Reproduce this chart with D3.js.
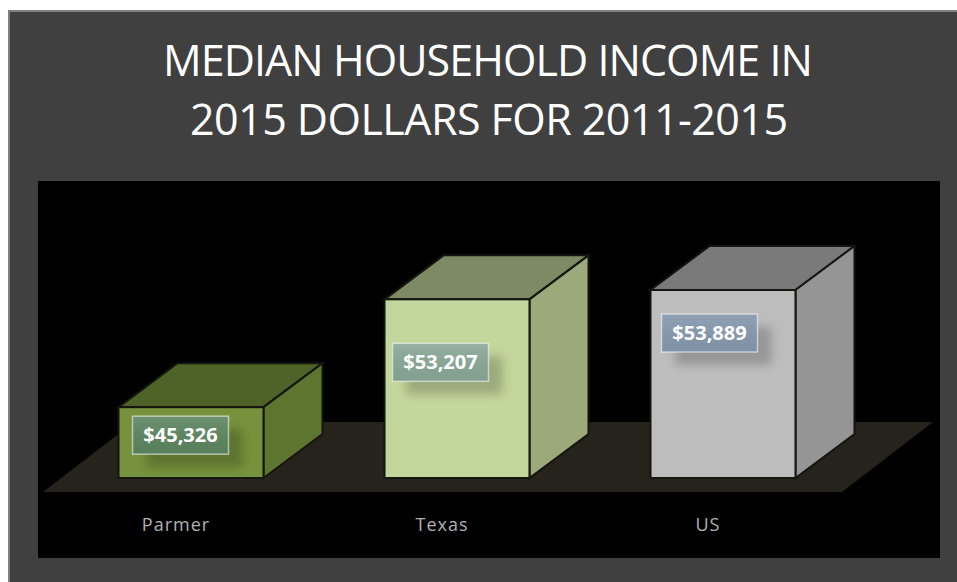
<!DOCTYPE html>
<html>
<head>
<meta charset="utf-8">
<script src="https://cdnjs.cloudflare.com/ajax/libs/d3/7.8.5/d3.min.js"></script>
<style>
  html, body { margin: 0; padding: 0; background: #fff; overflow: hidden; }
  svg { display: block; }
</style>
</head>
<body>
<div id="chart"></div>
<script>
// Data
const titleLines = ["MEDIAN HOUSEHOLD INCOME IN", "2015 DOLLARS FOR 2011-2015"];
const categories = ["Parmer", "Texas", "US"];
const incomes = [45326, 53207, 53889];

// Colours per bar
const frontColors = ["#76923c", "#c3d69b", "#bdbdbd"];
const sideColors = ["#5e7530", "#9ba97b", "#959595"];
const topColors = ["#4f6228", "#7d8a63", "#7a7a7a"];
const labelColors = ["#5c8660", "#8aa898", "#8699af"];

const width = 957, height = 582;
const depthX = 59, depthY = 44; // fake 3D offset of the box back face
const floorY = 478;

const svg = d3.select("#chart").append("svg")
    .attr("width", width)
    .attr("height", height);

// Panel and plot area
svg.append("rect").attr("x", 9).attr("y", 11).attr("width", width).attr("height", height)
    .attr("fill", "#404040").attr("stroke", "#7f7f7f").attr("stroke-width", 2);
svg.append("rect").attr("x", 38).attr("y", 181).attr("width", 902).attr("height", 377)
    .attr("fill", "#000");

// Title, fitted to the widths of the original lines
const titleSpans = [[163, 813, 76], [190, 788, 135]];
svg.selectAll(".title")
    .data(titleLines)
    .enter()
    .append("text")
    .attr("class", "title")
    .attr("x", (d, i) => titleSpans[i][0])
    .attr("y", (d, i) => titleSpans[i][2])
    .attr("textLength", (d, i) => titleSpans[i][1] - titleSpans[i][0])
    .attr("lengthAdjust", "spacing")
    .style("font-family", "'Open Sans', sans-serif")
    .style("font-size", "43px")
    .style("fill", "#fff")
    .text(d => d);

// Scales
const x = d3.scaleBand()
    .domain(categories)
    .range([58, 856])
    .paddingInner(0.455)
    .paddingOuter(0.2275);
const y = d3.scaleLinear()
    .domain([40150, 53889])
    .range([floorY, 290]);

const defs = svg.append("defs");
defs.append("filter").attr("id", "labelBlur")
    .attr("x", "-30%").attr("y", "-60%").attr("width", "160%").attr("height", "220%")
    .append("feGaussianBlur").attr("stdDeviation", 5);
const gloss = defs.append("linearGradient").attr("id", "gloss")
    .attr("x1", 0).attr("y1", 0).attr("x2", 0).attr("y2", 1);
gloss.append("stop").attr("offset", 0).attr("stop-color", "#fff").attr("stop-opacity", 0.1);
gloss.append("stop").attr("offset", 1).attr("stop-color", "#000").attr("stop-opacity", 0.05);

// Floor
const floorLeft = x.range()[0] - 15, floorRight = x.range()[1] - 14;
svg.append("path")
    .attr("d", d3.line()([
        [floorLeft, floorY + 14],
        [floorRight, floorY + 14],
        [floorRight + 91, floorY - 56],
        [floorLeft + 91, floorY - 56]
    ]) + "Z")
    .attr("fill", "#26231c");

// Boxes
const outline = "#14160f";
const bars = svg.selectAll(".bar")
    .data(categories)
    .enter()
    .append("g")
    .attr("class", "bar");

bars.append("path") // top face
    .attr("d", (d, i) => {
        const l = x(d), r = l + x.bandwidth(), t = y(incomes[i]);
        return d3.line()([[l, t], [r, t], [r + depthX, t - depthY], [l + depthX, t - depthY]]) + "Z";
    })
    .attr("fill", (d, i) => topColors[i])
    .attr("stroke", outline).attr("stroke-width", 2);

bars.append("path") // side face
    .attr("d", (d, i) => {
        const r = x(d) + x.bandwidth(), t = y(incomes[i]);
        return d3.line()([[r, t], [r + depthX, t - depthY], [r + depthX, floorY - depthY], [r, floorY]]) + "Z";
    })
    .attr("fill", (d, i) => sideColors[i])
    .attr("stroke", outline).attr("stroke-width", 2);

bars.append("rect") // front face
    .attr("x", d => x(d))
    .attr("y", (d, i) => y(incomes[i]))
    .attr("width", x.bandwidth())
    .attr("height", (d, i) => floorY - y(incomes[i]))
    .attr("fill", (d, i) => frontColors[i])
    .attr("stroke", outline).attr("stroke-width", 2);

// Value labels, hand placed on the front faces like in the original
const labelDx = [14, 8, 11], labelDy = [9, 44, 24];
const labelW = 96, labelH = 38;
const fmt = d3.format("$,");

const labels = bars.append("g")
    .attr("transform", (d, i) => `translate(${x(d) + labelDx[i]}, ${y(incomes[i]) + labelDy[i]})`);

labels.append("rect")
    .attr("x", 14).attr("y", 13)
    .attr("width", labelW).attr("height", labelH)
    .attr("fill", "#000").attr("opacity", 0.2)
    .attr("filter", "url(#labelBlur)");
labels.append("rect")
    .attr("width", labelW).attr("height", labelH)
    .attr("fill", (d, i) => labelColors[i]);
labels.append("rect")
    .attr("width", labelW).attr("height", labelH)
    .attr("fill", "url(#gloss)")
    .attr("stroke", "#fff").attr("stroke-opacity", 0.55).attr("stroke-width", 1.5);
labels.append("text")
    .attr("x", labelW / 2)
    .attr("y", labelH / 2 + 7)
    .attr("text-anchor", "middle")
    .style("font-family", "'Open Sans', sans-serif")
    .style("font-size", "20px")
    .style("font-weight", "700")
    .style("fill", "#fff")
    .text((d, i) => fmt(incomes[i]));

// Category axis, shifted left of the boxes like the 3D chart does
const axis = svg.append("g")
    .attr("transform", "translate(-15, 518)")
    .call(d3.axisBottom(x).tickSize(0).tickPadding(0));
axis.select(".domain").remove();
axis.selectAll("text")
    .style("font-family", "'Open Sans', sans-serif")
    .style("font-size", "18px")
    .style("letter-spacing", "1px")
    .style("fill", "#b0b0b0");
</script>
</body>
</html>
